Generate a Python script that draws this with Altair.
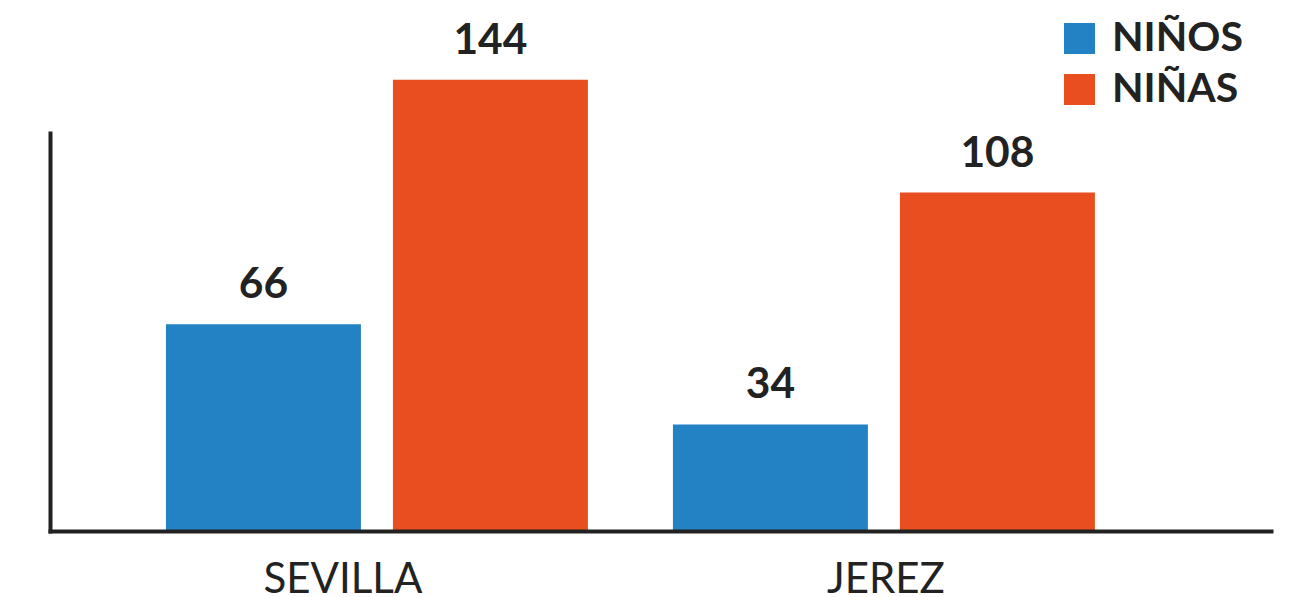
import altair as alt
import pandas as pd

ciudades = ["SEVILLA", "SEVILLA", "JEREZ", "JEREZ"]
grupos = ["NIÑOS", "NIÑAS", "NIÑOS", "NIÑAS"]
valores = [66, 144, 34, 108]

orden_ciudades = ["SEVILLA", "JEREZ"]
orden_grupos = ["NIÑOS", "NIÑAS"]
colores = ["#2282C3", "#E84E1F"]

df = pd.DataFrame({"ciudad": ciudades, "grupo": grupos, "valor": valores})

FONT = "Lato"
INK = "#222222"

x_enc = alt.X(
    "ciudad:N",
    sort=orden_ciudades,
    scale=alt.Scale(paddingInner=0.1677, paddingOuter=0.288, align=0.397),
    axis=alt.Axis(
        title=None, labelAngle=0, ticks=False, tickSize=0, labelPadding=61,
        labelBaseline="alphabetic", labelFont=FONT, labelFontSize=42,
        labelOffset=alt.condition("datum.value == 'SEVILLA'", alt.value(-34), alt.value(2)),
        labelColor=INK, domainColor=INK, domainWidth=4, domainCap="square",
        zindex=1,
    ),
)
xoff = alt.XOffset(
    "grupo:N", sort=orden_grupos,
    scale=alt.Scale(paddingInner=0.141, paddingOuter=0),
)
y_enc = alt.Y(
    "valor:Q",
    scale=alt.Scale(domain=[0, 127], nice=False, zero=True),
    axis=alt.Axis(
        title=None, labels=False, ticks=False, grid=False,
        domainColor=INK, domainWidth=4, domainCap="square", zindex=1,
    ),
)

base = alt.Chart(df).encode(x=x_enc, xOffset=xoff, y=y_enc)

bars = base.mark_bar(clip=False).encode(
    color=alt.Color(
        "grupo:N", sort=orden_grupos,
        scale=alt.Scale(domain=orden_grupos, range=colores),
        legend=alt.Legend(
            title=None, orient="none", legendX=1009, legendY=-115,
            symbolType="square", symbolSize=961, symbolStrokeWidth=0,
            symbolOpacity=1, labelFont=FONT, labelFontSize=41,
            labelFontWeight="bold", labelColor=INK, labelOffset=12,
            rowPadding=9, padding=0,
        ),
    )
)

labels = base.mark_text(
    dy=-26, baseline="alphabetic", align="center", font=FONT,
    fontSize=42.5, fontWeight="bold", color=INK,
).encode(text="valor:Q")

chart = (
    alt.layer(bars, labels)
    .properties(
        width=1221, height=398,
        autosize=alt.AutoSizeParams(type="none"),
        padding={"left": 42, "top": 125, "right": 23, "bottom": 66},
        background="white",
    )
    .configure_view(stroke=None, strokeWidth=0)
)

chart.save("out.html", embed_options={"renderer": "svg", "actions": False})
